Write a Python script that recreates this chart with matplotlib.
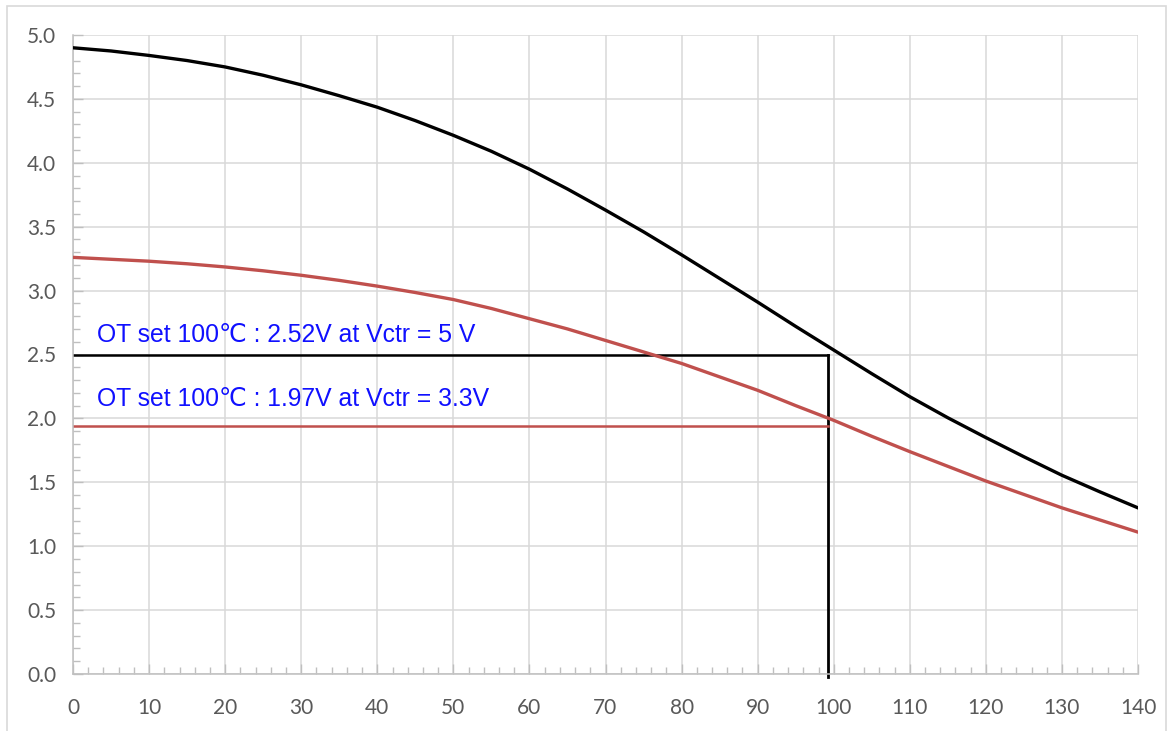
import numpy as np
import matplotlib
matplotlib.use('Agg')
import matplotlib.pyplot as plt
from matplotlib.ticker import MultipleLocator, FormatStrFormatter
from matplotlib.patches import Rectangle

# data
temp = [0, 5, 10, 15, 20, 25, 30, 35, 40, 45, 50, 55, 60, 65, 70,
        75, 80, 85, 90, 95, 100, 105, 110, 115, 120, 125, 130, 135, 140]
v_5v = [4.90, 4.875, 4.84, 4.80, 4.75, 4.685, 4.61, 4.525, 4.435, 4.33, 4.215, 4.09, 3.95, 3.795, 3.63,
        3.46, 3.28, 3.095, 2.91, 2.72, 2.535, 2.35, 2.17, 2.005, 1.85, 1.70, 1.555, 1.425, 1.30]
v_33v = [3.26, 3.245, 3.23, 3.21, 3.185, 3.155, 3.12, 3.08, 3.035, 2.985, 2.93, 2.86, 2.78, 2.70, 2.61,
         2.52, 2.43, 2.325, 2.22, 2.10, 1.985, 1.86, 1.74, 1.625, 1.51, 1.405, 1.30, 1.205, 1.11]

ot_temp = 99.3
ot_5v = 2.5
ot_33v = 1.94

label_5v = 'OT set 100\u2103 : 2.52V at Vctr = 5 V'
label_33v = 'OT set 100\u2103 : 1.97V at Vctr = 3.3V'

fig = plt.figure(figsize=(11.68, 7.31), dpi=100)
ax = fig.add_axes([73/1168, 1-674/731, (1138-73)/1168, (674-35)/731])

grid_c = '#d9d9d9'
ax.set_xlim(0, 140)
ax.set_ylim(0, 5)
ax.xaxis.set_major_locator(MultipleLocator(10))
ax.xaxis.set_minor_locator(MultipleLocator(2))
ax.yaxis.set_major_locator(MultipleLocator(0.5))
ax.yaxis.set_minor_locator(MultipleLocator(0.1))
ax.yaxis.set_major_formatter(FormatStrFormatter('%.1f'))
ax.grid(True, which='major', color=grid_c, lw=1.1, zorder=0)
ax.set_axisbelow(True)
for s in ['top', 'right']:
    ax.spines[s].set_visible(False)
for s in ['left', 'bottom']:
    ax.spines[s].set_color('#bfbfbf')
    ax.spines[s].set_linewidth(1.1)
ax.tick_params(which='both', direction='in', color='#bfbfbf', width=1.0)
ax.tick_params(which='major', length=7, labelsize=15, labelcolor='#595959')
ax.tick_params(axis='y', which='major', pad=12)
ax.tick_params(axis='x', which='major', pad=17)
ax.tick_params(which='minor', length=5)
for lab in ax.get_xticklabels() + ax.get_yticklabels():
    lab.set_family(['Lato', 'DejaVu Sans'])

ax.plot(temp, v_5v, color='black', lw=2.4, zorder=3, solid_joinstyle='round')
ax.plot(temp, v_33v, color='#c0504d', lw=2.4, zorder=3, solid_joinstyle='round')

# reference lines
ax.plot([0, ot_temp], [ot_5v, ot_5v], color='black', lw=1.8, zorder=2)
ax.plot([ot_temp, ot_temp], [-0.02, ot_5v], color='black', lw=2.0, zorder=2, clip_on=False)
ax.plot([0, ot_temp], [ot_33v, ot_33v], color='#c0504d', lw=1.8, zorder=2)

fnt = ['Liberation Sans', 'DejaVu Sans']
ax.text(3.2, 2.60, label_5v, color='#1010ff', fontsize=17.8, family=fnt, va='baseline')
ax.text(3.1, 2.095, label_33v, color='#1010ff', fontsize=17.8, family=fnt, va='baseline')

fig.patches.append(Rectangle((7/1168, -0.01), (1166-7)/1168, 1.01 - 6/731,
                             transform=fig.transFigure, fill=False, ec='#d9d9d9', lw=1.2))

fig.savefig('out.png', dpi=100)
